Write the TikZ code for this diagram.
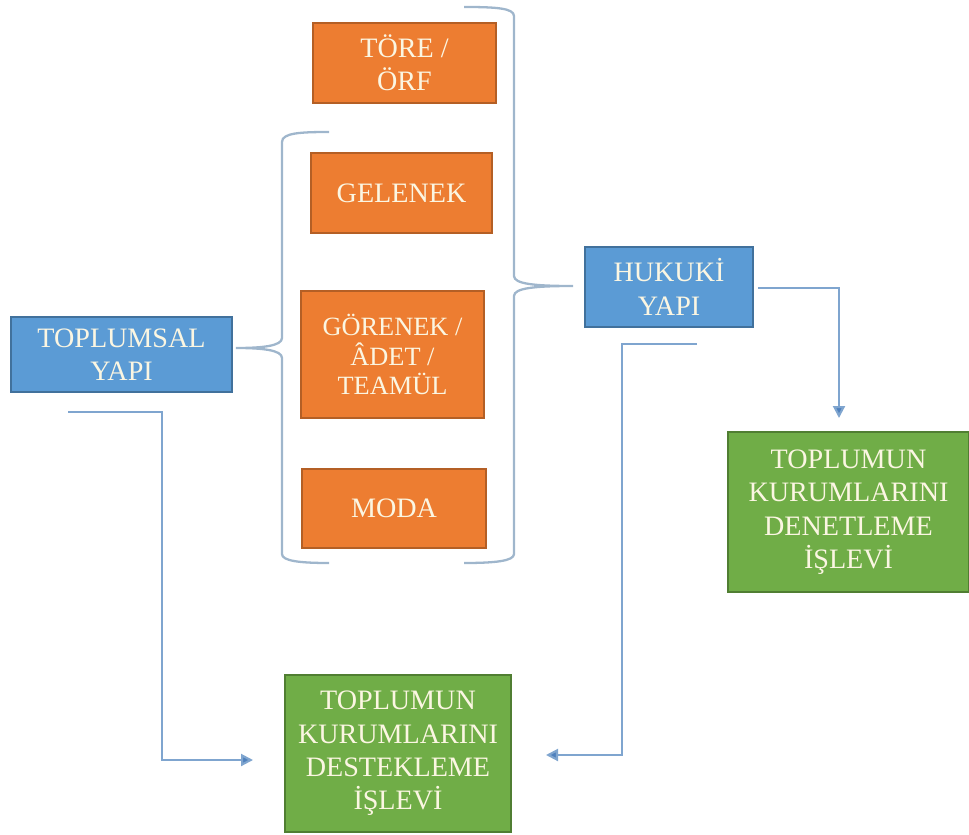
\documentclass[tikz,border=0pt]{standalone}
\usepackage{fontspec}
\setmainfont{Liberation Serif}
\usetikzlibrary{arrows.meta}
\definecolor{kutuTuruncu}{HTML}{ED7D31}
\definecolor{kenarTuruncu}{HTML}{B45F25}
\definecolor{kutuMavi}{HTML}{5B9BD5}
\definecolor{kenarMavi}{HTML}{41719C}
\definecolor{kutuYesil}{HTML}{70AD47}
\definecolor{kenarYesil}{HTML}{507E32}
\definecolor{yaziKrem}{HTML}{FBF6E2}
\definecolor{parantezGri}{HTML}{9FB6CC}
\definecolor{okMavi}{HTML}{7FA5CF}
\definecolor{okUc}{HTML}{4F81BD}

\begin{document}
\begin{tikzpicture}[
  x=0.02cm,y=-0.02cm,
  kutu/.style={draw,line width=0.9pt,align=center,text=yaziKrem,
    font=\fontsize{16}{19}\selectfont,inner sep=2pt},
  turuncu/.style={kutu,fill=kutuTuruncu,draw=kenarTuruncu},
  mavi/.style={kutu,fill=kutuMavi,draw=kenarMavi},
  yesil/.style={kutu,fill=kutuYesil,draw=kenarYesil},
  parantez/.style={draw=parantezGri,line width=1.3pt},
  ok/.style={-{Triangle[length=2.4mm,width=2.4mm,fill=okUc]},line width=1.2pt,draw=okMavi}
]
\useasboundingbox (0,0) rectangle (969,834);
\node[turuncu,minimum width=3.66cm,minimum height=1.6cm] (tore) at (404.5,63) {TÖRE /\\ÖRF};
\node[turuncu,minimum width=3.62cm,minimum height=1.6cm] (gelenek) at (401.5,193) {GELENEK};
\node[turuncu,minimum width=3.66cm,minimum height=2.54cm,
  font=\fontsize{15}{17}\selectfont] (gorenek) at (392.5,354.5) {GÖRENEK /\\ÂDET /\\TEAMÜL};
\node[turuncu,minimum width=3.68cm,minimum height=1.58cm] (moda) at (394,508.5) {MODA};
\node[mavi,minimum width=4.42cm,minimum height=1.5cm] (toplumsal) at (121.5,354.5) {TOPLUMSAL\\YAPI};
\node[mavi,minimum width=3.36cm,minimum height=1.6cm] (hukuki) at (669,287) {HUKUKİ\\YAPI};
\node[yesil,minimum width=4.82cm,minimum height=3.2cm] (denetleme) at (848.5,512)
  {TOPLUMUN\\KURUMLARINI\\DENETLEME\\İŞLEVİ};
\node[yesil,minimum width=4.52cm,minimum height=3.14cm] (destekleme) at (398,753.5)
  {TOPLUMUN\\KURUMLARINI\\DESTEKLEME\\İŞLEVİ};

\coordinate (solUc) at (236,348);
\coordinate (sagUc) at (573,286);
\draw[parantez] (329,132) .. controls (300,132) and (282,133) .. (282,142) -- (282,338)
  .. controls (282,346) and (262,348) .. (solUc)
  .. controls (262,348) and (282,350) .. (282,358) -- (282,554)
  .. controls (282,561) and (300,563) .. (329,563);
\draw[parantez] (464,7) .. controls (495,7) and (514,8) .. (514,16) -- (514,276)
  .. controls (514,284) and (535,286) .. (sagUc)
  .. controls (535,286) and (514,288) .. (514,296) -- (514,554)
  .. controls (514,561) and (495,563) .. (464,563);

\coordinate (toplumsalCikis) at (68,412);
\coordinate (destekSol) at (253,760);
\coordinate (hukukiCikis) at (758,288);
\coordinate (denetUst) at (839,418);
\coordinate (hukukiAlt) at (697,344);
\coordinate (destekSag) at (546,755);
\draw[ok] (toplumsalCikis) -- ++(94,0) |- (destekSol);
\draw[ok] (hukukiCikis) -| (denetUst);
\draw[ok] (hukukiAlt) -- ++(-75,0) |- (destekSag);
\end{tikzpicture}
\end{document}
